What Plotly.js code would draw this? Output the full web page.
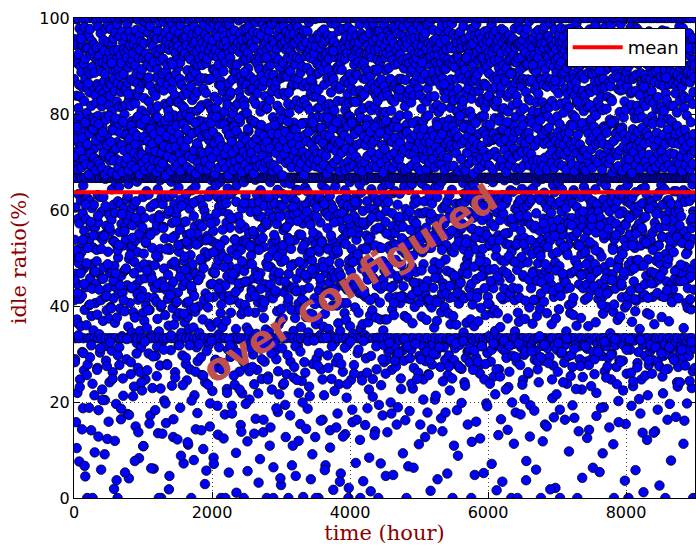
<!DOCTYPE html>
<html><head><meta charset="utf-8">
<script src="https://cdn.plot.ly/plotly-3.0.1.min.js"></script>
<style>html,body{margin:0;padding:0;background:#fff}</style>
</head><body><div id="chart" style="width:696px;height:545px"></div>
<script>
// idle ratio samples (tenths of a percent, "H" = 100%), read in time order
const idleQ1 = `
873 412 956 H 667 538 721 289 944 605 333 782 467 915 158 667 693 501 838 372 997 446 759 219 H 581 905 667 364 812 633 740 925 333 489 861 076 572 978 415 704 247 836 521 667 899 358 763 620 944
512 887 735 667 421 968 304 H 856 593 712 187 943 651 333 794 478 905 266 827 556 667 981 392 748 623 915 045 874 439 699 H 581 936 667 360 802 717 485 963 000 625 854 278 937 541 776 333 890 448
961 534 788 H 402 667 845 619 731 293 977 458 884 566 333 706 924 141 817 379 667 952 604 769 487 898 238 683 931 522 H 857 667 349 792 611 945 471 728 333 886 095 563 917 684 406 839 761 667 995
446 823 705 667 939 517 H 862 382 748 271 913 631 333 796 574 982 183 857 468 667 920 695 341 776 545 906 303 667 851 627 H 968 412 734 059 889 596 333 816 457 941 226 685 772 667 538 907 369 843
627 954 480 667 711 868 316 932 H 549 795 204 883 665 333 742 419 978 286 834 567 667 903 391 756 682 915 123 855 437 667 985 513 H 727 602 949 374 819 333 590 866 241 703 928 468 667 838 555 977
398 862 734 H 667 579 915 307 806 643 333 947 472 769 262 891 536 667 958 416 723 611 873 019 932 484 H 848 667 365 781 594 969 333 707 439 892 196 655 914 528 667 826 376 741 987 453 000 864 618
933 501 777 667 426 894 H 648 815 277 962 554 733 333 879 395 667 921 612 846 164 788 463 906 571 H 859 337 667 694 972 428 815 333 526 949 213 758 883 472 667 935 603 H 799 389 851 564 927 667
475 818 962 H 539 667 701 853 289 917 622 333 775 443 988 175 866 579 667 935 357 744 654 897 041 829 498 667 H 971 406 762 589 943 333 817 521 258 689 906 437 667 872 345 958 604 785 H 526 913
841 568 926 667 387 779 H 945 611 232 868 492 333 709 955 376 667 822 536 901 149 757 618 975 444 667 H 884 323 791 659 937 333 512 864 271 728 996 413 667 839 577 917 083 694 480 852 667 963 348
719 934 455 H 667 882 598 313 951 676 333 807 431 893 224 745 542 667 978 385 864 627 916 108 776 509 667 H 947 369 833 584 705 333 992 458 799 247 667 868 531 926 401 780 639 H 912 354 667 871
546 903 760 667 418 875 H 969 632 301 826 485 333 740 917 392 667 859 553 983 172 722 606 948 466 H 897 667 339 811 674 959 333 521 783 229 694 941 447 667 846 582 908 061 731 H 417 962 667 805
963 485 791 H 667 557 838 296 929 614 333 876 409 957 254 702 568 667 893 373 816 643 974 135 749 502 667 H 924 347 857 589 991 333 438 772 276 662 911 519 667 854 398 936 000 781 625 H 867 451
782 439 957 667 612 884 H 327 915 565 733 333 849 478 992 203 706 667 938 541 821 381 667 969 627 H 774 156 889 433 952 333 687 816 279 745 903 592 667 862 415 977 521 H 806 359 934 018 628 791 667 945
517 876 734 H 667 441 962 598 308 827 659 333 908 487 781 234 851 573 667 986 396 719 634 941 127 868 451 H 667 933 361 797 612 974 333 546 839 262 709 927 484 667 883 407 956 589 H 741 378 912 667 825
953 602 779 667 428 897 H 941 647 319 824 513 333 756 968 385 667 873 559 907 188 742 621 985 473 H 861 667 344 798 686 933 333 529 817 297 695 958 442 667 839 574 921 072 733 H 494 958 667 812 366
688 927 451 H 667 852 576 279 961 633 333 798 406 944 245 717 548 667 891 377 843 615 976 111 764 527 667 H 919 352 874 603 995 333 463 788 268 671 914 506 667 857 392 939 000 804 641 H 878 432 957
829 476 966 667 539 712 H 893 355 947 587 333 761 421 982 214 836 566 667 904 388 727 649 951 143 885 467 667 H 929 314 807 619 968 333 551 846 285 733 901 455 667 868 399 973 532 H 786 344 915 667
571 938 703 H 667 463 875 622 293 955 681 333 818 493 771 256 902 537 667 948 372 784 608 921 102 853 479 H 667 986 329 766 598 937 333 512 874 241 692 965 426 667 844 585 906 057 719 H 503 948 667
915 546 822 667 397 783 H 958 628 318 871 509 333 745 932 363 667 816 582 979 197 728 639 994 445 H 874 667 357 809 662 941 333 535 795 223 708 953 471 667 893 556 922 084 756 H 419 987 667 836
468 891 747 H 667 576 934 287 812 651 333 967 482 734 272 885 529 667 919 366 752 627 961 132 828 496 667 H 903 341 861 607 982 333 447 779 283 658 929 513 667 869 385 944 000 798 619 H 857 428
`;
const idleQ2 = `
734 H 598 921 356 667 847 612 975 281 503 889 333 726 944 418 667 805 537 962 174 691 859 H 443 908 625 782 333 369 951 667 574 833 227 706 987 462 819 H 645 938 309 772 667 591 864 053 927 484 755
986 421 667 839 563 H 917 708 294 845 386 968 633 333 792 516 903 192 748 667 872 455 H 935 679 801 313 956 582 667 727 414 889 333 641 974 236 815 539 667 901 468 763 H 887 352 942 617 011 784 526
652 903 H 478 821 667 759 948 331 586 874 333 712 995 437 667 846 263 929 561 783 H 405 967 694 833 152 878 517 667 941 383 725 333 862 603 218 954 448 667 797 H 911 536 868 391 976 000 658 827 473 939
817 564 H 936 402 667 883 629 274 914 745 333 538 861 979 355 667 802 487 957 118 676 928 H 451 895 613 764 333 348 983 667 551 848 205 731 962 419 667 878 H 596 945 322 787 505 916 667 434 852 691
429 947 786 667 H 614 853 299 971 527 333 829 693 458 938 237 667 871 548 H 914 386 745 663 991 165 821 472 667 908 333 342 779 632 956 267 667 843 518 H 969 408 735 587 901 032 862 455 927 667 616
893 537 H 742 917 667 468 805 641 311 964 333 586 879 413 725 248 667 931 562 H 858 397 986 694 137 817 523 667 943 375 333 701 869 609 284 916 667 445 837 H 573 978 351 764 627 948 489 811 667 000
569 934 812 H 667 437 896 676 253 958 333 719 502 883 346 667 974 595 H 829 421 756 658 939 147 902 481 667 863 334 333 768 611 988 226 667 847 532 H 953 416 793 584 917 064 735 462 881 667 629
948 472 H 783 667 613 921 307 856 539 333 992 427 747 289 667 868 571 H 936 389 817 642 965 179 779 508 667 913 361 333 842 597 979 216 667 732 453 H 897 523 958 369 806 611 944 027 875 492 667 759
634 H 879 512 667 946 374 765 608 236 907 333 558 844 429 983 667 721 H 496 879 657 952 194 838 563 667 934 337 333 801 623 971 258 667 878 441 H 916 589 763 406 937 542 821 000 894 467 667 957 716
802 441 967 H 667 574 889 655 284 932 333 746 519 914 392 667 857 H 604 981 436 778 625 946 109 863 487 667 922 348 333 782 591 967 273 667 819 537 H 947 375 874 618 903 046 759 431 985 667 642 828
457 918 H 733 667 862 596 981 318 641 333 873 405 956 219 667 811 549 H 968 392 734 668 915 154 886 471 667 937 356 333 824 609 962 244 667 899 518 H 781 433 942 572 858 002 713 487 969 667 605
974 586 H 829 667 409 753 647 261 921 333 781 533 865 377 667 949 612 H 817 458 896 639 972 186 743 504 667 926 345 333 856 578 991 232 667 809 466 H 935 621 768 384 917 569 841 039 887 667 512 704
721 H 943 495 667 866 382 792 623 279 957 333 541 836 467 914 667 768 H 589 927 416 853 614 998 127 774 528 667 941 362 333 837 605 958 291 667 883 479 H 904 547 812 371 965 625 793 000 851 667 433
886 513 H 958 667 627 814 339 901 574 333 768 447 937 268 667 829 H 536 972 405 761 651 919 163 892 492 667 947 357 333 793 618 976 214 667 861 523 H 953 384 734 596 921 068 779 468 906 667 643 817
593 927 H 752 667 431 875 692 297 964 333 806 518 893 352 667 915 587 H 821 449 783 629 955 141 868 476 667 932 339 333 845 611 989 248 667 795 462 H 879 536 962 401 818 603 945 017 873 667 507 741
951 468 H 807 667 585 936 324 771 649 333 918 437 859 283 667 986 523 H 734 401 897 665 942 176 827 511 667 893 364 333 769 592 973 237 667 852 489 H 916 576 789 348 934 621 857 051 908 667 445 763
674 H 892 539 667 917 406 753 612 263 977 333 561 826 442 949 667 784 H 598 869 385 936 641 915 133 808 546 667 955 371 333 819 627 962 209 667 874 434 H 927 553 842 319 981 609 796 000 864 667 481
823 495 H 944 667 658 795 358 883 571 333 737 472 961 246 667 853 H 519 926 434 786 606 974 158 871 502 667 918 342 333 826 588 945 277 667 903 451 H 768 624 951 397 847 583 932 073 885 667 611 779
538 962 H 774 667 443 881 617 302 936 333 827 552 908 386 667 949 564 H 803 427 768 653 986 121 849 494 667 927 353 333 792 636 967 254 667 836 478 H 901 519 843 362 959 598 812 035 874 667 423 956
907 432 H 841 667 569 926 339 757 662 333 894 419 873 291 667 962 547 H 781 468 926 618 943 187 788 525 667 889 366 333 854 577 984 226 667 817 492 H 968 603 759 381 927 544 878 014 935 667 486 808
643 H 918 477 667 862 391 778 634 248 952 333 526 847 458 987 667 749 H 603 892 417 854 625 933 139 816 559 667 971 376 333 838 593 957 268 667 889 445 H 913 586 827 334 972 617 785 000 846 667 521 935
866 523 H 973 667 619 804 372 907 588 333 781 436 948 235 667 872 H 561 917 454 772 646 961 172 837 493 667 924 349 333 803 627 987 283 667 858 474 H 939 372 764 612 918 575 891 046 804 667 653
`;
const idleQ3 = `
598 H 846 372 927 667 713 289 954 481 838 333 617 972 305 745 667 896 524 H 963 418 782 311 654 935 667 873 547 199 921 333 468 807 686 958 267 667 829 393 H 912 566 743 635 981 442 667 858 529 774
381 947 667 826 H 552 714 318 903 639 333 861 496 975 274 667 788 419 H 932 583 852 298 667 745 611 968 189 836 333 457 905 712 564 942 667 873 329 H 986 634 797 406 924 575 667 851 249 718 963 486
873 516 H 759 667 948 421 683 307 912 333 565 834 982 441 667 727 286 H 895 649 961 379 667 816 534 939 162 871 333 602 953 416 777 316 667 908 588 H 832 375 946 673 797 461 667 917 066 843 526 988
642 906 H 473 667 851 597 291 968 733 333 414 887 535 956 667 824 309 H 717 482 933 654 667 893 364 975 228 746 333 578 911 449 865 271 667 839 613 H 958 398 782 547 926 625 667 869 323 904 471
917 436 H 785 667 562 879 325 944 618 333 746 519 986 261 667 853 447 H 928 593 717 296 667 961 408 839 672 153 333 895 537 764 421 978 667 811 378 H 942 655 873 512 926 317 667 784 593 958 247
487 962 H 831 667 618 749 302 915 557 333 883 426 969 285 667 794 563 H 935 371 826 644 667 904 452 987 178 853 333 521 916 683 797 258 667 947 405 H 869 538 763 629 991 316 667 836 579 015 921
756 521 H 942 667 397 868 613 278 931 333 702 546 889 319 667 975 438 H 812 667 584 953 355 667 837 491 924 205 766 333 648 907 413 872 299 667 956 561 H 784 369 935 627 819 474 667 902 533 868 311
923 458 H 804 667 649 891 326 973 536 333 767 412 948 273 667 859 582 H 906 387 731 659 667 984 426 813 603 139 333 874 551 927 447 783 667 895 314 H 961 572 846 398 917 609 667 833 288 955 497
608 894 H 527 667 935 764 331 852 473 333 986 619 731 256 667 914 385 H 847 548 972 297 667 788 631 905 417 224 333 859 596 941 362 813 667 872 469 H 937 514 759 642 988 323 667 826 000 903 557
841 379 H 966 667 512 829 287 914 671 333 743 458 897 312 667 958 524 H 786 613 934 361 667 873 592 948 183 805 333 439 921 677 852 276 667 917 546 H 794 405 963 588 832 319 667 885 613 971 452
559 937 H 782 667 423 906 614 269 951 333 817 563 874 328 667 939 471 H 827 656 983 345 667 904 518 771 634 241 333 892 483 956 617 801 667 846 292 H 918 539 778 365 942 627 667 869 498 913 305
938 486 H 853 667 596 774 308 926 645 333 881 437 962 282 667 805 591 H 943 372 869 623 667 977 446 832 561 117 333 915 528 794 403 946 667 868 327 H 901 584 726 652 979 358 667 847 614 048 887
715 963 H 518 667 872 639 293 987 456 333 754 591 928 316 667 883 427 H 956 545 789 368 667 912 603 848 276 733 333 484 967 621 824 259 667 937 503 H 861 396 917 628 795 542 667 958 317 831 579
893 542 H 917 667 463 825 329 947 608 333 796 478 863 247 667 972 556 H 813 632 904 381 667 859 491 936 197 778 333 547 899 665 953 302 667 826 419 H 974 587 742 611 928 337 667 884 526 962 403
476 918 H 764 667 631 949 284 833 572 333 908 441 987 309 667 851 607 H 927 385 746 658 667 965 437 874 539 253 333 821 566 938 392 791 667 912 348 H 857 621 973 504 816 318 667 943 016 879 595
827 603 H 954 667 385 871 319 936 547 333 762 624 896 268 667 914 453 H 792 579 961 356 667 843 616 928 164 857 333 495 977 542 809 311 667 886 631 H 949 414 765 593 902 327 667 812 548 973 436
662 874 H 493 667 958 727 305 869 614 333 937 529 781 292 667 896 418 H 961 623 836 374 667 927 552 805 231 912 333 576 843 697 964 263 667 781 527 H 935 458 884 641 913 329 667 858 000 946 513
954 431 H 886 667 572 818 296 957 638 333 849 493 923 321 667 776 565 H 909 412 978 347 667 865 603 939 178 794 333 526 908 662 837 284 667 951 475 H 823 598 946 386 872 614 667 917 539 985 367
583 946 H 723 667 417 892 621 277 975 333 806 557 868 314 667 943 489 H 857 644 919 332 667 788 576 954 246 873 333 461 936 605 812 298 667 899 542 H 967 373 754 629 928 305 667 846 581 037 904
869 517 H 978 667 609 753 326 904 491 333 872 638 946 259 667 831 574 H 993 397 785 616 667 921 454 867 193 828 333 569 953 437 794 317 667 915 622 H 871 508 939 363 806 645 667 958 472 893 329
738 905 H 562 667 923 683 288 851 527 333 969 412 783 306 667 887 593 H 824 658 947 379 667 906 531 861 268 917 333 489 842 626 975 241 667 803 466 H 946 557 768 394 933 621 667 874 513 959 000
`;
const idleQ4 = `
426 H 871 946 667 538 792 317 903 665 333 824 459 977 286 667 861 582 H 937 409 746 636 667 982 527 815 153 893 333 612 948 473 809 327 667 876 558 H 921 385 857 604 962 312 667 795 544 918 437
962 583 667 H 814 479 937 294 868 621 333 751 536 904 329 667 988 445 H 872 617 953 362 667 827 575 941 208 786 333 508 925 652 861 276 667 943 419 H 898 562 734 637 976 318 667 853 491 021 913
817 374 H 935 667 611 886 309 952 548 333 795 427 871 263 667 916 579 H 843 656 964 393 667 902 483 779 617 184 333 948 532 867 421 979 667 822 301 H 908 597 752 643 937 326 667 884 559 949 466
549 927 H 803 667 456 961 628 282 887 333 934 571 768 319 667 853 436 H 976 604 825 347 667 944 512 896 238 731 333 583 919 677 842 295 667 968 528 H 814 402 947 619 873 331 667 906 543 978 385
905 468 H 778 667 625 849 298 936 583 333 862 407 917 273 667 798 614 H 951 381 884 641 667 873 546 962 167 838 333 473 907 634 793 318 667 925 492 H 867 573 989 359 824 606 667 941 000 852 527
672 941 H 529 667 896 733 316 974 445 333 817 592 953 289 667 879 468 H 902 627 771 375 667 958 508 843 226 915 333 564 881 691 937 252 667 848 437 H 923 581 806 648 966 323 667 874 519 907 413
838 512 H 961 667 467 824 284 908 637 333 781 445 932 311 667 967 556 H 815 592 946 358 667 887 624 911 142 852 333 497 976 573 818 287 667 903 603 H 846 431 957 614 789 329 667 931 568 882 476
594 883 H 742 667 931 618 304 857 526 333 972 468 806 258 667 914 487 H 868 643 985 366 667 797 553 923 219 887 333 612 849 438 961 321 667 826 579 H 941 415 763 597 904 308 667 869 512 956 054
927 446 H 815 667 583 959 327 884 659 333 836 503 971 296 667 854 418 H 923 569 808 384 667 946 622 873 189 774 333 541 938 481 856 264 667 981 437 H 892 606 735 651 948 316 667 811 574 927 398
469 962 H 836 667 612 775 292 943 548 333 897 431 866 326 667 939 597 H 788 455 919 343 667 858 634 985 247 831 333 578 904 617 827 301 667 947 466 H 874 523 968 388 913 629 667 782 000 896 541
786 539 H 908 667 436 893 318 962 604 333 759 571 929 273 667 881 452 H 947 619 764 371 667 913 487 852 202 956 333 633 876 498 942 287 667 804 557 H 925 378 849 642 987 325 667 863 515 934 442
945 418 H 772 667 597 928 286 851 631 333 908 462 793 318 667 962 538 H 826 644 893 397 667 876 571 937 154 809 333 524 964 618 887 259 667 931 403 H 857 589 716 653 971 314 667 899 486 956 627
618 873 H 549 667 957 702 309 924 473 333 843 612 981 261 667 819 494 H 953 367 846 626 667 907 535 873 233 762 333 589 936 451 803 328 667 878 605 H 942 521 791 389 918 637 667 848 562 979 411
882 495 H 934 667 563 817 281 976 596 333 792 437 904 304 667 948 571 H 805 609 969 352 667 839 484 917 176 885 333 526 958 643 862 247 667 927 418 H 793 556 935 614 866 319 667 956 583 012 823
537 928 H 759 667 423 881 647 296 953 333 817 586 872 322 667 905 463 H 864 632 947 385 667 783 529 961 214 846 333 497 914 604 838 277 667 972 541 H 829 382 956 618 897 306 667 873 537 941 469
956 471 H 848 667 618 795 313 931 552 333 886 419 962 287 667 823 608 H 917 448 784 362 667 951 573 866 139 927 333 563 889 683 947 329 667 811 494 H 968 597 743 629 902 284 667 835 526 913 455
701 893 H 526 667 964 637 274 862 489 333 945 563 808 315 667 878 421 H 933 652 816 377 667 906 544 974 253 793 333 611 927 473 858 296 667 944 588 H 807 419 962 643 879 321 667 892 000 945 508
843 567 H 972 667 451 829 301 917 619 333 764 488 941 269 667 956 543 H 789 621 903 368 667 862 597 932 196 874 333 522 968 427 817 312 667 889 613 H 927 446 784 582 953 327 667 916 559 864 435
579 916 H 817 667 639 953 288 886 534 333 911 457 774 324 667 843 596 H 968 417 859 639 667 929 476 803 241 955 333 548 882 676 934 273 667 865 452 H 911 598 747 613 982 306 667 828 541 897 473
924 452 H 763 667 587 874 317 948 627 333 857 533 903 292 667 979 468 H 838 641 926 354 667 813 556 957 161 833 333 617 901 482 869 319 667 945 531 H 872 406 958 635 797 328 667 884 512 961 396
667 887 H 543 667 923 716 296 968 458 333 832 619 951 308 667 866 414 H 947 577 783 393 667 932 562 884 229 906 333 476 941 653 821 264 667 958 597 H 846 539 913 628 876 311 667 903 574 937 488
`;
// second set of samples taken between the ones above (same time span)
const idleExtra = `
712 455 283 748 691 516 104 773 427 685 339 796 502 231 724 468 957 689 143 751 538 302 706 446 067 782 611 695 489 256 737 521 864 674 188 759 403 717 575 318 692 436 000 768 547 709 214 784 472 683
745 493 267 701 588 128 779 434 696 312 753 519 828 687 204 762 457 719 546 091 674 608 788 421 275 735 487 682 159 796 563 711 324 742 395 906 678 248 766 452 703 534 119 791 468 728 037 673 516 297
688 527 314 761 443 702 186 735 591 679 249 784 412 724 556 053 697 478 756 331 708 629 841 682 173 749 506 727 283 775 439 693 542 212 763 468 719 077 737 584 686 301 754 425 795 137 713 551 674 262
779 418 241 715 564 697 108 752 487 683 326 789 533 706 474 266 744 391 876 691 155 727 548 769 062 686 457 738 295 704 612 758 437 183 722 505 679 315 793 446 701 000 746 583 688 228 764 402 719 134
697 562 309 733 441 786 197 672 518 754 277 712 465 794 598 046 729 423 681 339 767 542 903 706 164 748 492 689 251 731 576 776 409 122 695 527 757 318 718 461 681 088 743 609 703 235 779 384 726 503
731 476 292 768 534 689 116 747 409 712 318 793 551 683 442 203 759 487 707 615 079 724 396 781 263 676 528 739 177 698 454 764 321 812 687 498 721 141 753 566 684 255 716 413 772 029 702 537 758 306
684 539 236 757 418 721 149 694 572 781 327 709 446 763 512 071 738 469 675 288 794 593 723 192 751 437 688 314 745 526 859 706 403 268 732 559 697 124 778 481 717 000 687 614 766 219 729 498 673 331
756 412 318 697 583 742 176 719 467 683 255 774 538 701 429 094 765 506 729 302 688 447 791 226 708 572 737 138 679 493 752 285 721 614 887 694 451 196 746 531 713 056 769 388 684 264 733 524 707 312
719 487 273 738 556 676 134 783 421 705 329 749 598 691 463 218 727 517 762 081 694 436 777 289 713 542 686 163 754 408 731 319 699 575 918 742 482 247 703 627 771 109 728 445 695 301 759 516 681 000
693 548 321 777 432 719 187 741 503 684 264 758 469 731 586 041 706 394 789 312 672 527 746 239 717 451 763 127 698 564 729 298 784 416 845 701 536 172 752 483 689 068 737 607 713 251 769 439 724 316
768 431 246 703 577 751 119 686 492 734 305 697 548 779 414 199 721 526 673 283 756 465 709 144 743 597 688 327 762 438 715 212 698 512 872 737 476 091 782 553 707 328 726 404 691 000 748 585 717 276
704 519 302 746 458 687 161 771 533 718 247 739 481 694 612 058 757 427 713 334 676 562 792 271 729 493 754 105 687 547 731 316 769 422 931 698 574 223 744 459 723 147 783 516 706 292 738 471 681 034
742 463 279 719 594 762 128 695 447 755 313 683 529 728 406 237 774 581 701 021 747 438 689 326 716 553 781 184 725 492 693 259 758 617 825 711 443 163 736 508 684 309 767 574 702 000 739 429 694 245
681 574 327 753 426 699 152 735 518 775 261 712 455 747 539 084 686 412 763 296 721 584 738 211 694 479 744 131 773 526 707 316 689 442 893 754 563 194 717 407 761 072 698 521 735 289 678 456 782 318
727 442 259 786 551 708 137 752 484 691 323 766 517 714 438 176 742 593 687 048 773 406 719 286 751 527 698 153 734 462 772 302 706 586 851 741 419 227 689 541 719 093 757 468 726 331 684 509 763 000
762 528 316 687 467 734 181 716 559 749 238 693 423 781 505 063 717 448 756 321 703 572 729 248 688 431 767 112 741 546 682 289 755 474 907 728 518 205 769 439 706 127 743 596 685 305 722 414 751 256
698 413 288 741 592 723 143 765 476 706 301 754 541 689 459 213 731 408 776 039 719 565 697 314 748 488 723 166 695 517 758 243 712 439 862 684 551 178 737 426 774 051 709 583 743 274 691 442 728 329
735 557 249 774 419 692 109 728 463 763 322 718 587 735 427 088 752 534 681 271 796 448 706 198 739 571 687 327 773 416 745 234 682 532 917 719 467 153 755 508 697 312 734 421 768 000 703 561 746 267
676 482 307 729 543 781 159 702 418 737 284 685 556 759 493 124 707 462 733 316 691 519 764 052 722 437 699 279 757 588 711 191 746 405 838 693 529 238 778 452 716 071 747 536 684 322 759 477 721 216
749 519 268 711 462 748 131 786 537 692 253 741 419 704 608 034 768 473 689 328 725 551 747 226 679 468 783 142 713 503 761 317 694 427 884 736 582 199 706 438 751 113 727 492 763 294 687 529 716 000
713 436 322 765 588 686 174 743 502 721 236 776 464 693 529 206 739 411 758 077 706 587 722 262 761 455 693 128 748 537 716 305 781 468 902 702 413 182 734 567 689 059 772 452 704 284 746 514 681 337
787 504 293 703 449 757 118 691 572 738 319 709 487 766 436 149 684 523 742 281 771 459 716 018 735 594 698 247 723 431 752 168 687 546 869 745 474 216 713 512 762 323 697 439 739 000 718 562 755 304
692 467 241 736 523 715 163 758 449 684 332 747 506 723 571 097 761 438 704 254 738 568 695 193 776 417 729 311 681 495 744 227 718 553 826 757 484 139 693 526 736 275 708 464 781 042 724 597 689 318
724 541 316 682 487 766 125 714 418 759 277 697 533 744 459 233 727 582 688 063 752 441 773 289 705 516 736 171 762 473 699 304 741 428 891 716 567 188 749 403 684 093 737 549 712 326 769 456 702 251
761 426 274 727 561 697 147 736 491 707 298 782 454 678 517 112 744 403 719 331 686 548 759 237 714 479 691 158 753 592 724 283 767 446 912 681 508 224 732 471 757 036 703 568 745 309 688 421 729 000
706 583 331 753 432 731 192 677 526 768 243 721 478 749 414 058 694 551 735 272 763 496 708 206 742 437 686 329 728 563 771 136 716 484 857 738 445 255 701 532 762 121 689 417 754 287 715 603 741 319
683 447 259 779 517 704 136 747 468 732 314 689 592 761 427 184 718 503 744 026 697 462 781 301 723 544 705 218 756 419 688 267 737 579 876 709 433 163 768 498 694 314 751 536 718 078 742 408 684 293
739 512 287 716 473 758 169 701 544 775 232 738 416 697 568 241 763 486 712 309 681 531 745 113 726 452 767 276 694 508 733 197 709 437 938 752 527 244 685 461 741 325 717 583 696 000 758 434 723 271
`;

const spanHours = 9000;          // samples are spread evenly over this time span
const meanIdle = 63.7;           // mean idle ratio (%)
const xTickVals = [0, 2000, 4000, 6000, 8000];
const yTickVals = [0, 20, 40, 60, 80, 100];
const noteText = 'over configured';

function parseSamples(s) {
  return s.trim().split(/\s+/).map(t => t === 'H' ? 100 : Number(t) / 10);
}
function spread(vals) {
  return vals.map((_, i) => i * spanHours / (vals.length - 1));
}
const idleMain = [idleQ1, idleQ2, idleQ3, idleQ4].flatMap(parseSamples);
const idleMore = parseSamples(idleExtra);
const idle = idleMain.concat(idleMore);
const hours = spread(idleMain).concat(spread(idleMore));

const traces = [
  {
    type: 'scatter', mode: 'markers', x: hours, y: idle, showlegend: false, hoverinfo: 'skip',
    marker: { color: '#0000ff', size: 9.5, line: { color: '#000000', width: 0.8 } }
  },
  {
    type: 'scatter', mode: 'lines', x: [0, spanHours], y: [meanIdle, meanIdle], name: 'mean',
    line: { color: '#ff0000', width: 4 }
  }
];

const axisCommon = {
  showline: true, linecolor: '#000', linewidth: 1, mirror: 'ticks',
  ticks: 'inside', ticklen: 6, tickcolor: '#000',
  showgrid: true, gridcolor: '#444', griddash: '1px,3px', gridwidth: 1,
  zeroline: false,
  tickfont: { family: 'DejaVu Sans', size: 16, color: '#000' }
};

const layout = {
  width: 696, height: 545,
  margin: { l: 74, r: 1, t: 18, b: 47 },
  paper_bgcolor: '#fff', plot_bgcolor: '#fff',
  xaxis: Object.assign({}, axisCommon, {
    range: [0, spanHours], tickvals: xTickVals,
    title: { text: 'time (hour)', standoff: 2, font: { family: 'DejaVu Serif', size: 21, color: '#8b0000' } }
  }),
  yaxis: Object.assign({}, axisCommon, {
    range: [0, 100], tickvals: yTickVals,
    title: { text: 'idle ratio(%)', standoff: 6, font: { family: 'DejaVu Serif', size: 21, color: '#8b0000' } }
  }),
  legend: {
    x: 0.985, y: 0.979, xanchor: 'right', yanchor: 'top',
    bgcolor: '#fff', bordercolor: '#000', borderwidth: 1, itemwidth: 50,
    font: { family: 'DejaVu Sans', size: 18, color: '#000' }
  },
  annotations: [{
    x: 4000, y: 44.5, xref: 'x', yref: 'y', text: noteText, showarrow: false,
    textangle: -32,
    font: { family: 'DejaVu Sans', size: 38, color: '#c0504d', weight: 'bold' }
  }]
};

Plotly.newPlot('chart', traces, layout, { staticPlot: true, displayModeBar: false });
</script>
</body></html>
